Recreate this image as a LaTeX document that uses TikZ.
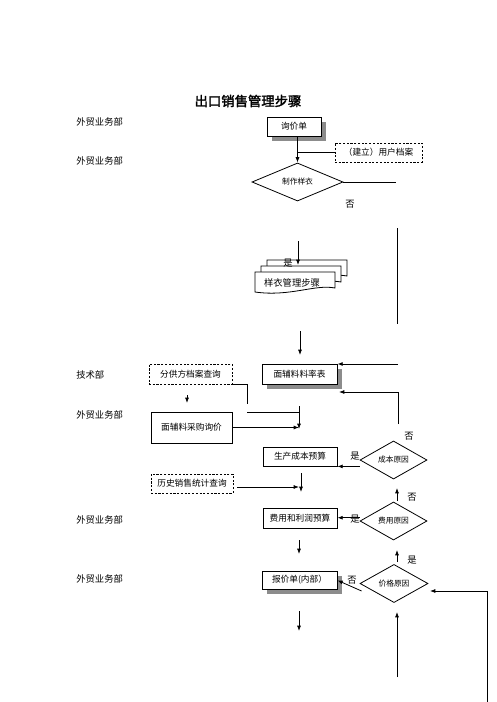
\documentclass[tikz,border=0pt]{standalone}
\usepackage{fontspec}
\setmainfont{Noto Sans CJK SC}
\newfontfamily\titlefont{Noto Sans CJK SC}[FakeBold=2]
\usetikzlibrary{shapes.geometric,shadows,arrows.meta}

\tikzset{
  box/.style={draw, fill=white, line width=0.6pt, inner sep=0.75pt, font=\fontsize{6.5}{7}\selectfont},
  shadowbox/.style={box, general shadow={fill=black!45, shadow xshift=3.4pt, shadow yshift=-3.4pt}},
  dashbox/.style={box, dash pattern=on 1.6pt off 1.2pt},
  decision/.style={diamond, draw, fill=white, line width=0.6pt, inner sep=0pt, font=\fontsize{5.8}{6}\selectfont},
  dept/.style={anchor=west, inner sep=0.75pt, font=\fontsize{7}{8}\selectfont},
  note/.style={inner sep=0.75pt, font=\fontsize{7}{8}\selectfont},
  arr/.style={-{Latex[length=4pt,width=3pt]}, line width=0.6pt},
  line/.style={line width=0.6pt},
}

\begin{document}
\begin{tikzpicture}[x=0.75pt,y=0.75pt,yscale=-1,xscale=1]
\useasboundingbox (0,0) rectangle (496,702);

% Title
\node [inner sep=0.75pt, font=\titlefont\fontsize{10}{12}\selectfont] (title) at (248,101) {出口销售管理步骤};

% Departments
\node [dept] (dept1) at (75,122) {外贸业务部};
\node [dept] (dept2) at (75,161) {外贸业务部};
\node [dept] (dept3) at (75,375) {技术部};
\node [dept] (dept4) at (75,415) {外贸业务部};
\node [dept] (dept5) at (75,520) {外贸业务部};
\node [dept] (dept6) at (75,579) {外贸业务部};

% Boxes
\node [shadowbox, minimum width=40.5pt, minimum height=14.25pt] (inquiry) at (294,126.5) {询价单};
\node [dashbox, minimum width=65.25pt, minimum height=14.25pt] (archive) at (378.5,152.5) {（建立）用户档案};
\node [decision, minimum width=68.25pt, minimum height=19.5pt] (sample) at (297.5,182) {制作样衣};

% stack of pages
\foreach \d in {12,6,0} {
  \filldraw [fill=white, line width=0.6pt] (255+\d,272-\d) -- (335+\d,272-\d) -- (335+\d,288-\d) .. controls (315+\d,284-\d) and (290+\d,297-\d) .. (255+\d,292-\d) -- cycle;
}
\node [note] (samplesteps) at (292,283) {样衣管理步骤};

\node [shadowbox, minimum width=56.25pt, minimum height=15pt] (rate) at (299.5,374) {面辅料料率表};
\node [dashbox, minimum width=62.25pt, minimum height=15pt] (supplier) at (190.5,374) {分供方档案查询};
\node [box, minimum width=60.75pt, minimum height=23.25pt] (purchase) at (191.5,427.5) {面辅料采购询价};
\node [box, minimum width=55.5pt, minimum height=14.25pt] (cost) at (300,456.5) {生产成本预算};
\node [decision, minimum width=50.25pt, minimum height=19.5pt] (costwhy) at (393.5,460) {成本原因};
\node [dashbox, minimum width=61.5pt, minimum height=14.25pt] (history) at (192,483.5) {历史销售统计查询};
\node [box, minimum width=55.5pt, minimum height=15pt] (expense) at (300,518) {费用和利润预算};
\node [decision, minimum width=50.25pt, minimum height=19.5pt] (expwhy) at (393.5,521) {费用原因};
\node [shadowbox, minimum width=56.25pt, minimum height=13.5pt] (quote) at (299.5,580) {报价单(内部）};
\node [decision, minimum width=51pt, minimum height=20.25pt] (pricewhy) at (394,583.5) {价格原因};

% Text Node
\node [note] (no1) at (350,204) {否};
\node [note] (yes1) at (288,263) {是};
\node [note] (no2) at (409,436) {否};
\node [note] (yes2) at (355,456) {是};
\node [note] (no3) at (412,497) {否};
\node [note] (yes3) at (355,519) {是};
\node [note] (yes4) at (412,560) {是};
\node [note] (no4) at (352,580) {否};

% free ends
\coordinate (s1) at (396,182);
\coordinate (a1) at (298,241);
\coordinate (a2) at (298,265);
\coordinate (v1) at (397,228);
\coordinate (v2) at (397,324);
\coordinate (a3) at (300,331);
\coordinate (a4) at (300,355);
\coordinate (r1) at (398,364);
\coordinate (r2) at (398,424);
\coordinate (r3) at (339,392);
\coordinate (f1) at (247,404);
\coordinate (f2) at (247,412);
\coordinate (f3) at (299,406);
\coordinate (f4) at (299,429);
\coordinate (b1) at (187,395);
\coordinate (b2) at (187,403);
\coordinate (c1) at (301,473);
\coordinate (c2) at (301,492);
\coordinate (h1) at (237,487);
\coordinate (u1) at (397,501);
\coordinate (u2) at (397,488);
\coordinate (e1) at (299,540);
\coordinate (e2) at (299,554);
\coordinate (u3) at (397,562);
\coordinate (u4) at (397,550);
\coordinate (q1) at (299,611);
\coordinate (q2) at (299,631);
\coordinate (u5) at (397,677);
\coordinate (u6) at (397,612);
\coordinate (p1) at (487,702);
\coordinate (p2) at (430,591);

%Straight Lines
\draw [arr] (inquiry.south -| sample.north) -- (sample.north);
\draw [line] (archive.west) -- (archive.west -| sample.north);
\draw [line] (sample.east) -- (s1);
\draw [arr] (a1) -- (a2);
\draw [line] (v1) -- (v2);
\draw [arr] (a3) -- (a4);
\draw [arr] (r1) -- (rate.north east |- r1);
\draw [arr] (r2) |- (r3);
\draw [line] (supplier.south east) -| (f1);
\draw [line] (f2) -- (f2 -| f3);
\draw [arr] (f3) -- (f4);
\draw [arr] (purchase.east) -- (purchase.east -| f4);
\draw [arr] (b1) -- (b2);
\draw [arr] (cost.south east -| costwhy.west) -- (cost.south east);
\draw [arr] (c1) -- (c2);
\draw [arr] (h1) -- (h1 -| f4);
\draw [arr] (u1) -- (u2);
\draw [arr] ([yshift=-8]expense.south east -| expwhy.west) -- ([yshift=-8]expense.south east);
\draw [arr] (e1) -- (e2);
\draw [arr] (u3) -- (u4);
\draw [arr] (p2 -| pricewhy.west) ++(2,0) -- ([yshift=-8]quote.south east |- p2);
\draw [arr] (q1) -- (q2);
\draw [arr] (u5) -- (u6);
\draw [arr] (p1) |- (p2);

\end{tikzpicture}
\end{document}
